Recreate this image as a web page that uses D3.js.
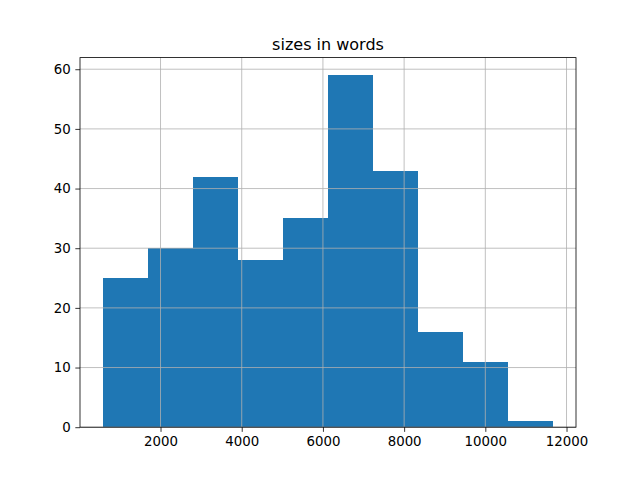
<!DOCTYPE html>
<html><head><meta charset="utf-8">
<script src="https://cdn.jsdelivr.net/npm/d3@7"></script>
<style>body{margin:0;background:#fff}svg{display:block;font-family:"DejaVu Sans",sans-serif}</style>
</head><body><svg id="c" width="640" height="480"></svg>
<script>
const title = "sizes in words";
const binEdges = [572, 1683, 2793, 3904, 5014, 6125, 7236, 8346, 9457, 10567, 11678];
const counts = [25, 30, 42, 28, 35, 59, 43, 16, 11, 1];
const xTicks = [2000, 4000, 6000, 8000, 10000, 12000];
const yTicks = [0, 10, 20, 30, 40, 50, 60];

const W = 640, H = 480;
const L = 80, R = 576, T = 57.6, B = 427.2;
const svg = d3.select("#c");
const lo = binEdges[0], hi = binEdges[binEdges.length - 1], pad = (hi - lo) * 0.05;
const x = d3.scaleLinear().domain([lo - pad, hi + pad]).range([L, R]);
const y = d3.scaleLinear().domain([0, d3.max(counts) * 1.05]).range([B, T]);

const bins = counts.map((c, i) => ({x0: binEdges[i], x1: binEdges[i + 1], c}));
svg.append("g").attr("shape-rendering", "crispEdges").selectAll("rect").data(bins).join("rect")
  .attr("x", d => Math.round(x(d.x0))).attr("width", d => Math.round(x(d.x1)) - Math.round(x(d.x0)))
  .attr("y", d => Math.round(y(d.c))).attr("height", d => Math.round(y(0)) - Math.round(y(d.c)))
  .attr("fill", "#1f77b4");

const grid = svg.append("g").attr("stroke", "#b0b0b0").attr("stroke-width", 0.8);
grid.selectAll(".gx").data(xTicks).join("line")
  .attr("x1", d => x(d)).attr("x2", d => x(d)).attr("y1", T).attr("y2", B);
grid.selectAll(".gy").data(yTicks).join("line")
  .attr("y1", d => y(d)).attr("y2", d => y(d)).attr("x1", L).attr("x2", R);

const xa = svg.append("g").attr("transform", `translate(0,${B})`)
  .call(d3.axisBottom(x).tickValues(xTicks).tickFormat(d3.format("d")).tickSize(4.67).tickPadding(4.7));
const ya = svg.append("g").attr("transform", `translate(${L},0)`)
  .call(d3.axisLeft(y).tickValues(yTicks).tickFormat(d3.format("d")).tickSize(4.67).tickPadding(4.7));
[xa, ya].forEach(a => {
  a.select(".domain").remove();
  a.selectAll("line").attr("stroke", "#000").attr("stroke-width", 0.8);
  a.selectAll("text").attr("font-size", "13.33px").attr("fill", "#000").attr("font-family", "DejaVu Sans");
});

svg.append("rect").attr("x", L).attr("y", T).attr("width", R - L).attr("height", B - T)
  .attr("fill", "none").attr("stroke", "#000").attr("stroke-width", 0.8);

svg.append("text").attr("x", (L + R) / 2).attr("y", T - 8)
  .attr("text-anchor", "middle").attr("font-size", "16px").attr("fill", "#000").text(title);
</script></body></html>
